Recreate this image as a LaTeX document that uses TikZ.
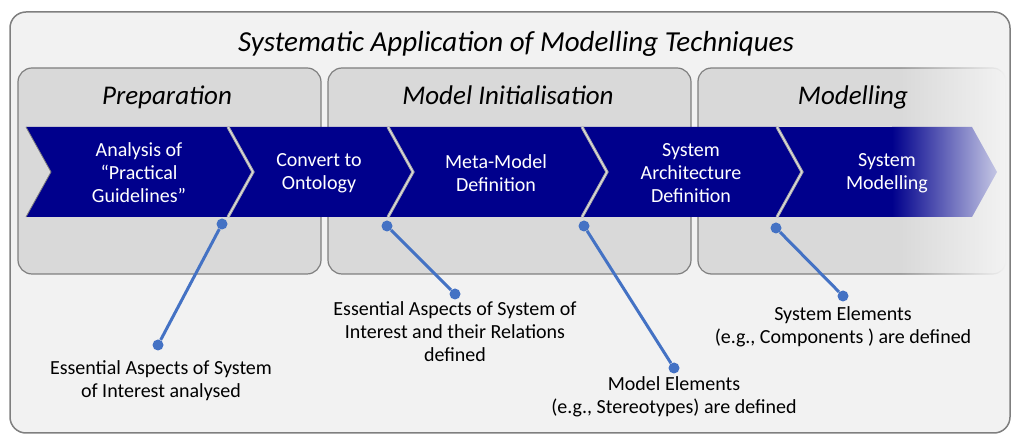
\documentclass[tikz,border=0pt]{standalone}
\usepackage{fontspec}
\setmainfont{Carlito}
\usetikzlibrary{positioning}

\definecolor{chevblue}{RGB}{0,0,140}
\definecolor{fadeblue}{RGB}{196,198,228}
\definecolor{callblue}{RGB}{68,114,196}
\definecolor{panelgray}{RGB}{217,217,217}
\definecolor{backgray}{RGB}{242,242,242}
\definecolor{edgegray}{RGB}{127,127,127}

\tikzset{
  phasebox/.style={fill=panelgray, draw=edgegray, line width=1.2pt, rounded corners=14pt},
  phasetitle/.style={font=\fontsize{27}{32}\selectfont\itshape, anchor=base, inner sep=0pt},
  chevtext/.style={text=white, align=center, font=\fontsize{20}{23}\selectfont, inner sep=0pt},
  sepline/.style={draw=gray!65, line width=3pt},
  dot/.style={circle, fill=callblue, inner sep=0pt, minimum size=11pt},
  callout/.style={callblue, line width=3pt},
  notetext/.style={align=center, font=\fontsize{20}{23}\selectfont, inner sep=0pt},
}

\begin{document}
\begin{tikzpicture}[x=1pt, y=-1pt]
  \useasboundingbox (0,0) rectangle (1013,435);
  \draw[fill=backgray, draw=edgegray, line width=1.5pt, rounded corners=16pt] (10,12) rectangle (1010,433);
  \node[font=\fontsize{29}{35}\selectfont\itshape, anchor=base, inner sep=0pt] (title) at (516,52)
    {Systematic Application of Modelling Techniques};

  \draw[phasebox] (18,68) rectangle (321,274);
  \draw[phasebox] (328,68) rectangle (691,274);
  \begin{scope}
    \clip[rounded corners=14pt] (697.4,67.4) rectangle (1006.6,274.6);
    \fill[edgegray] (697,67) rectangle (900,275);
    \shade[left color=edgegray, right color=backgray] (900,67) rectangle (1007,275);
  \end{scope}
  \begin{scope}
    \clip[rounded corners=13pt] (698.6,68.6) rectangle (1005.4,273.4);
    \fill[panelgray] (698,68) rectangle (900,274);
    \shade[left color=panelgray, right color=backgray] (900,68) rectangle (1006,274);
  \end{scope}

  \node[phasetitle] (prep) at (167,105) {Preparation};
  \node[phasetitle] (init) at (508,105) {Model Initialisation};
  \node[phasetitle] (model) at (853,105) {Modelling};

  \foreach \xl/\xr in {26/228,228/388,388/582,582/777}
    \fill[chevblue] (\xl,127) -- (\xl+25,172) -- (\xl,217) -- (\xr,217) -- (\xr+25,172) -- (\xr,127) -- cycle;
  \begin{scope}
    \clip (777,127) -- (802,172) -- (777,217) -- (972,217) -- (997,172) -- (972,127) -- cycle;
    \fill[chevblue] (777,127) rectangle (892,217);
    \shade[left color=chevblue, right color=fadeblue] (892,127) rectangle (997,217);
  \end{scope}
  \draw[gray, line width=0.8pt] (26,127) -- (51,172) -- (26,217);
  \foreach \xr in {228,388,582,777} {
    \draw[sepline] (\xr,127) -- (\xr+25,172) -- (\xr,217);
    \draw[white!80!gray, line width=0.8pt] (\xr,127) -- (\xr+25,172) -- (\xr,217);
  }

  \node[chevtext] (analysis) at (139,173) {Analysis of\\“Practical\\Guidelines”};
  \node[chevtext] (convert) at (319,173) {Convert to\\Ontology};
  \node[chevtext] (metamodel) at (496,173) {Meta-Model\\Definition};
  \node[chevtext] (architecture) at (691,173) {System\\Architecture\\Definition};
  \node[chevtext] (sysmodel) at (887,173) {System\\Modelling};

  \node[dot] (a1) at (222,224) {};
  \node[dot] (a2) at (158,345) {};
  \node[dot] (b1) at (387,226) {};
  \node[dot] (b2) at (455,294) {};
  \node[dot] (c1) at (584,226) {};
  \node[dot] (c2) at (674,368) {};
  \node[dot] (d1) at (776,228) {};
  \node[dot] (d2) at (843,296) {};
  \draw[callout] (a1) -- (a2);
  \draw[callout] (b1) -- (b2);
  \draw[callout] (c1) -- (c2);
  \draw[callout] (d1) -- (d2);

  \node[notetext, below=10pt of a2, xshift=3pt] (analysed) {Essential Aspects of System\\of Interest analysed};
  \node[notetext, below=2pt of b2] (relations) {Essential Aspects of System of\\Interest and their Relations\\defined};
  \node[notetext, below=3pt of c2] (stereotypes) {Model Elements\\(e.g., Stereotypes) are defined};
  \node[notetext, below=5pt of d2] (components) {System Elements\\(e.g., Components ) are defined};
\end{tikzpicture}
\end{document}
